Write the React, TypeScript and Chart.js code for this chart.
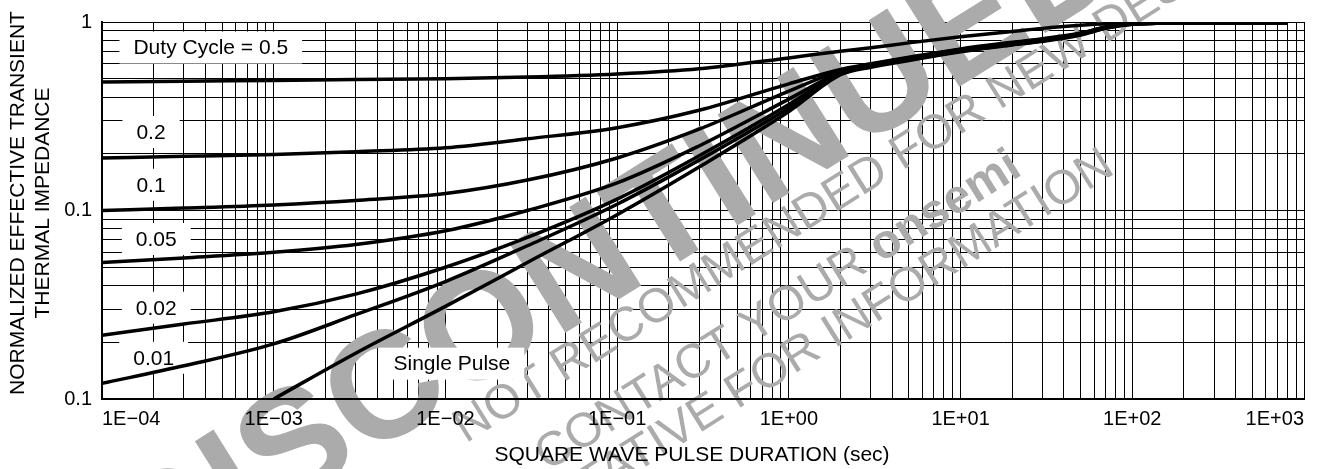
import React, { useEffect, useRef } from 'react';
import { Chart, registerables } from 'chart.js';

Chart.register(...registerables);

// ---------- data ----------
const pulseDuration = [1e-4, 3e-4, 1e-3, 3e-3, 1e-2, 3e-2, 0.1, 0.3, 1, 2, 3, 5, 10, 20, 30, 50, 70, 100, 300, 800];
const duty05 = [0.48, 0.485, 0.49, 0.495, 0.5, 0.51, 0.53, 0.565, 0.645, 0.7, 0.73, 0.775, 0.835, 0.89, 0.925, 0.96, 0.978, 0.988, 0.99, 0.99];
const duty02 = [0.19, 0.194, 0.198, 0.205, 0.215, 0.24, 0.275, 0.34, 0.47, 0.56, 0.6, 0.65, 0.72, 0.78, 0.815, 0.875, 0.94, 0.98, 0.99, 0.99];
const duty01 = [0.1, 0.103, 0.107, 0.113, 0.123, 0.145, 0.19, 0.27, 0.43, 0.55, 0.595, 0.645, 0.715, 0.775, 0.81, 0.87, 0.937, 0.978, 0.99, 0.99];
const duty005 = [0.053, 0.056, 0.06, 0.066, 0.078, 0.1, 0.14, 0.22, 0.39, 0.54, 0.59, 0.64, 0.71, 0.77, 0.805, 0.866, 0.934, 0.976, 0.99, 0.99];
const duty002 = [0.0218, 0.025, 0.029, 0.036, 0.05, 0.072, 0.115, 0.195, 0.365, 0.535, 0.585, 0.635, 0.705, 0.765, 0.8, 0.862, 0.931, 0.975, 0.99, 0.99];
const duty001 = [0.0121, 0.015, 0.0196, 0.028, 0.042, 0.065, 0.108, 0.185, 0.35, 0.53, 0.58, 0.63, 0.7, 0.76, 0.795, 0.858, 0.928, 0.974, 0.99, 0.99];
const singlePulse = [null, null, 0.01, 0.0175, 0.031, 0.053, 0.095, 0.17, 0.335, 0.525, 0.575, 0.625, 0.695, 0.755, 0.79, 0.854, 0.925, 0.973, 0.99, 0.99];

const seriesList = [duty05, duty02, duty01, duty005, duty002, duty001, singlePulse];

const xDecades = [-4, -3, -2, -1, 0, 1, 2, 3];
const xDecadeLabels = ['1E\u221204', '1E\u221203', '1E\u221202', '1E\u221201', '1E+00', '1E+01', '1E+02', '1E+03'];
const yDecades = [-2, -1, 0];
const yDecadeLabels = ['0.1', '0.1', '1'];

const curveLabelTexts = ['Duty Cycle = 0.5', '0.2', '0.1', '0.05', '0.02', '0.01', 'Single Pulse'];
const curveLabelX = [4.3e-4, 1.93e-4, 1.93e-4, 2.07e-4, 2.07e-4, 2.0e-4, 0.0109];
const curveLabelY = [0.732, 0.261, 0.137, 0.0706, 0.0305, 0.01655, 0.0154];

const xTitle = 'SQUARE WAVE PULSE DURATION (sec)';
const yTitleLines = ['NORMALIZED EFFECTIVE TRANSIENT', 'THERMAL IMPEDANCE'];

const FONT = '"Liberation Sans", Arial, Helvetica, sans-serif';
const WM = '#ababab';

function logTicks(minExp: number, maxExp: number) {
  const out: { value: number }[] = [];
  for (let e = minExp; e < maxExp; e++) {
    for (let m = 1; m <= 9; m++) out.push({ value: Number((m * Math.pow(10, e)).toPrecision(6)) });
  }
  out.push({ value: Math.pow(10, maxExp) });
  return out;
}

function decadeLabel(value: number, decades: number[], labels: string[]) {
  const l = Math.log10(value);
  const r = Math.round(l);
  if (Math.abs(l - r) > 1e-9) return '';
  const i = decades.indexOf(r);
  return i >= 0 ? labels[i] : '';
}

const overlayPlugin = {
  id: 'overlay',
  beforeDatasetsDraw(chart: any) {
    const ctx = chart.ctx as CanvasRenderingContext2D;
    // watermark
    ctx.save();
    ctx.fillStyle = WM;
    ctx.rotate((-32 * Math.PI) / 180);
    ctx.textBaseline = 'alphabetic';
    ctx.textAlign = 'center';
    ctx.font = `bold 152px ${FONT}`;
    ctx.fillText('DISCONTINUED', 390, 582);
    ctx.textAlign = 'left';
    ctx.font = `48px ${FONT}`;
    ctx.fillText('NOT RECOMMENDED FOR NEW DESIGN', 160, 623);
    const part = 'CONTACT YOUR ';
    ctx.fillText(part, 214, 690);
    const w = ctx.measureText(part).width;
    ctx.font = `bold 48px ${FONT}`;
    ctx.fillText('onsemi', 214 + w, 690);
    ctx.font = `48px ${FONT}`;
    ctx.fillText('REPRESENTATIVE FOR INFORMATION', -30, 738);
    ctx.restore();

    // curve label boxes
    const xs = chart.scales.x;
    const ys = chart.scales.y;
    ctx.save();
    ctx.font = `21px ${FONT}`;
    ctx.textAlign = 'center';
    ctx.textBaseline = 'middle';
    curveLabelTexts.forEach((t, i) => {
      const cx = xs.getPixelForValue(curveLabelX[i]);
      const cy = ys.getPixelForValue(curveLabelY[i]);
      const tw = ctx.measureText(t).width;
      ctx.fillStyle = '#fff';
      ctx.fillRect(cx - tw / 2 - 14, cy - 16, tw + 28, 32);
      ctx.fillStyle = '#000';
      ctx.fillText(t, cx, cy + 1);
    });
    ctx.restore();
  },
  afterDraw(chart: any) {
    const ctx = chart.ctx as CanvasRenderingContext2D;
    ctx.save();
    ctx.fillStyle = '#000';
    ctx.font = `21px ${FONT}`;
    ctx.textAlign = 'center';
    ctx.textBaseline = 'middle';
    ctx.fillText(xTitle, 692, 455);
    ctx.translate(0, 203);
    ctx.rotate(-Math.PI / 2);
    ctx.fillText(yTitleLines[0], 0, 18);
    ctx.fillText(yTitleLines[1], 0, 43);
    ctx.restore();
  },
};

export default function App() {
  const ref = useRef<HTMLCanvasElement | null>(null);
  useEffect(() => {
    if (!ref.current) return;
    const datasets = seriesList.map((s) => ({
      data: pulseDuration.map((x, i) => ({ x, y: s[i] })),
      borderColor: '#000',
      borderWidth: 3.5,
      pointRadius: 0,
      fill: false,
      cubicInterpolationMode: 'monotone' as const,
    }));
    const chart = new Chart(ref.current, {
      type: 'line',
      data: { datasets },
      options: {
        animation: false,
        responsive: true,
        maintainAspectRatio: false,
        layout: { padding: { left: 0, right: 23, top: 15, bottom: 0 } },
        plugins: { legend: { display: false }, tooltip: { enabled: false } },
        scales: {
          x: {
            type: 'logarithmic',
            min: 1e-4,
            max: 1e3,
            afterBuildTicks: (s: any) => { s.ticks = logTicks(-4, 3); },
            afterFit: (s: any) => { s.height = 70; },
            grid: { color: '#000', lineWidth: 1, drawTicks: false },
            border: { display: true, color: '#000', width: 2, z: 1 },
            ticks: {
              autoSkip: false,
              maxRotation: 0,
              minRotation: 0,
              align: 'inner',
              padding: 8,
              color: '#000',
              font: { family: FONT, size: 20 },
              z: 1,
              callback: (v: any) => decadeLabel(Number(v), xDecades, xDecadeLabels),
            },
          },
          y: {
            type: 'logarithmic',
            min: 0.01,
            max: 1,
            afterBuildTicks: (s: any) => { s.ticks = logTicks(-2, 0); },
            afterFit: (s: any) => { s.width = 102; },
            grid: { color: '#000', lineWidth: 1, drawTicks: false },
            border: { display: true, color: '#000', width: 2, z: 1 },
            ticks: {
              autoSkip: false,
              padding: 10,
              color: '#000',
              font: { family: FONT, size: 20 },
              z: 1,
              callback: (v: any) => decadeLabel(Number(v), yDecades, yDecadeLabels),
            },
          },
        },
      } as any,
      plugins: [overlayPlugin],
    });
    return () => chart.destroy();
  }, []);
  return (
    <div style={{ position: 'fixed', left: 0, top: 0, width: 1327, height: 469, background: '#fff' }}>
      <canvas ref={ref} />
    </div>
  );
}
